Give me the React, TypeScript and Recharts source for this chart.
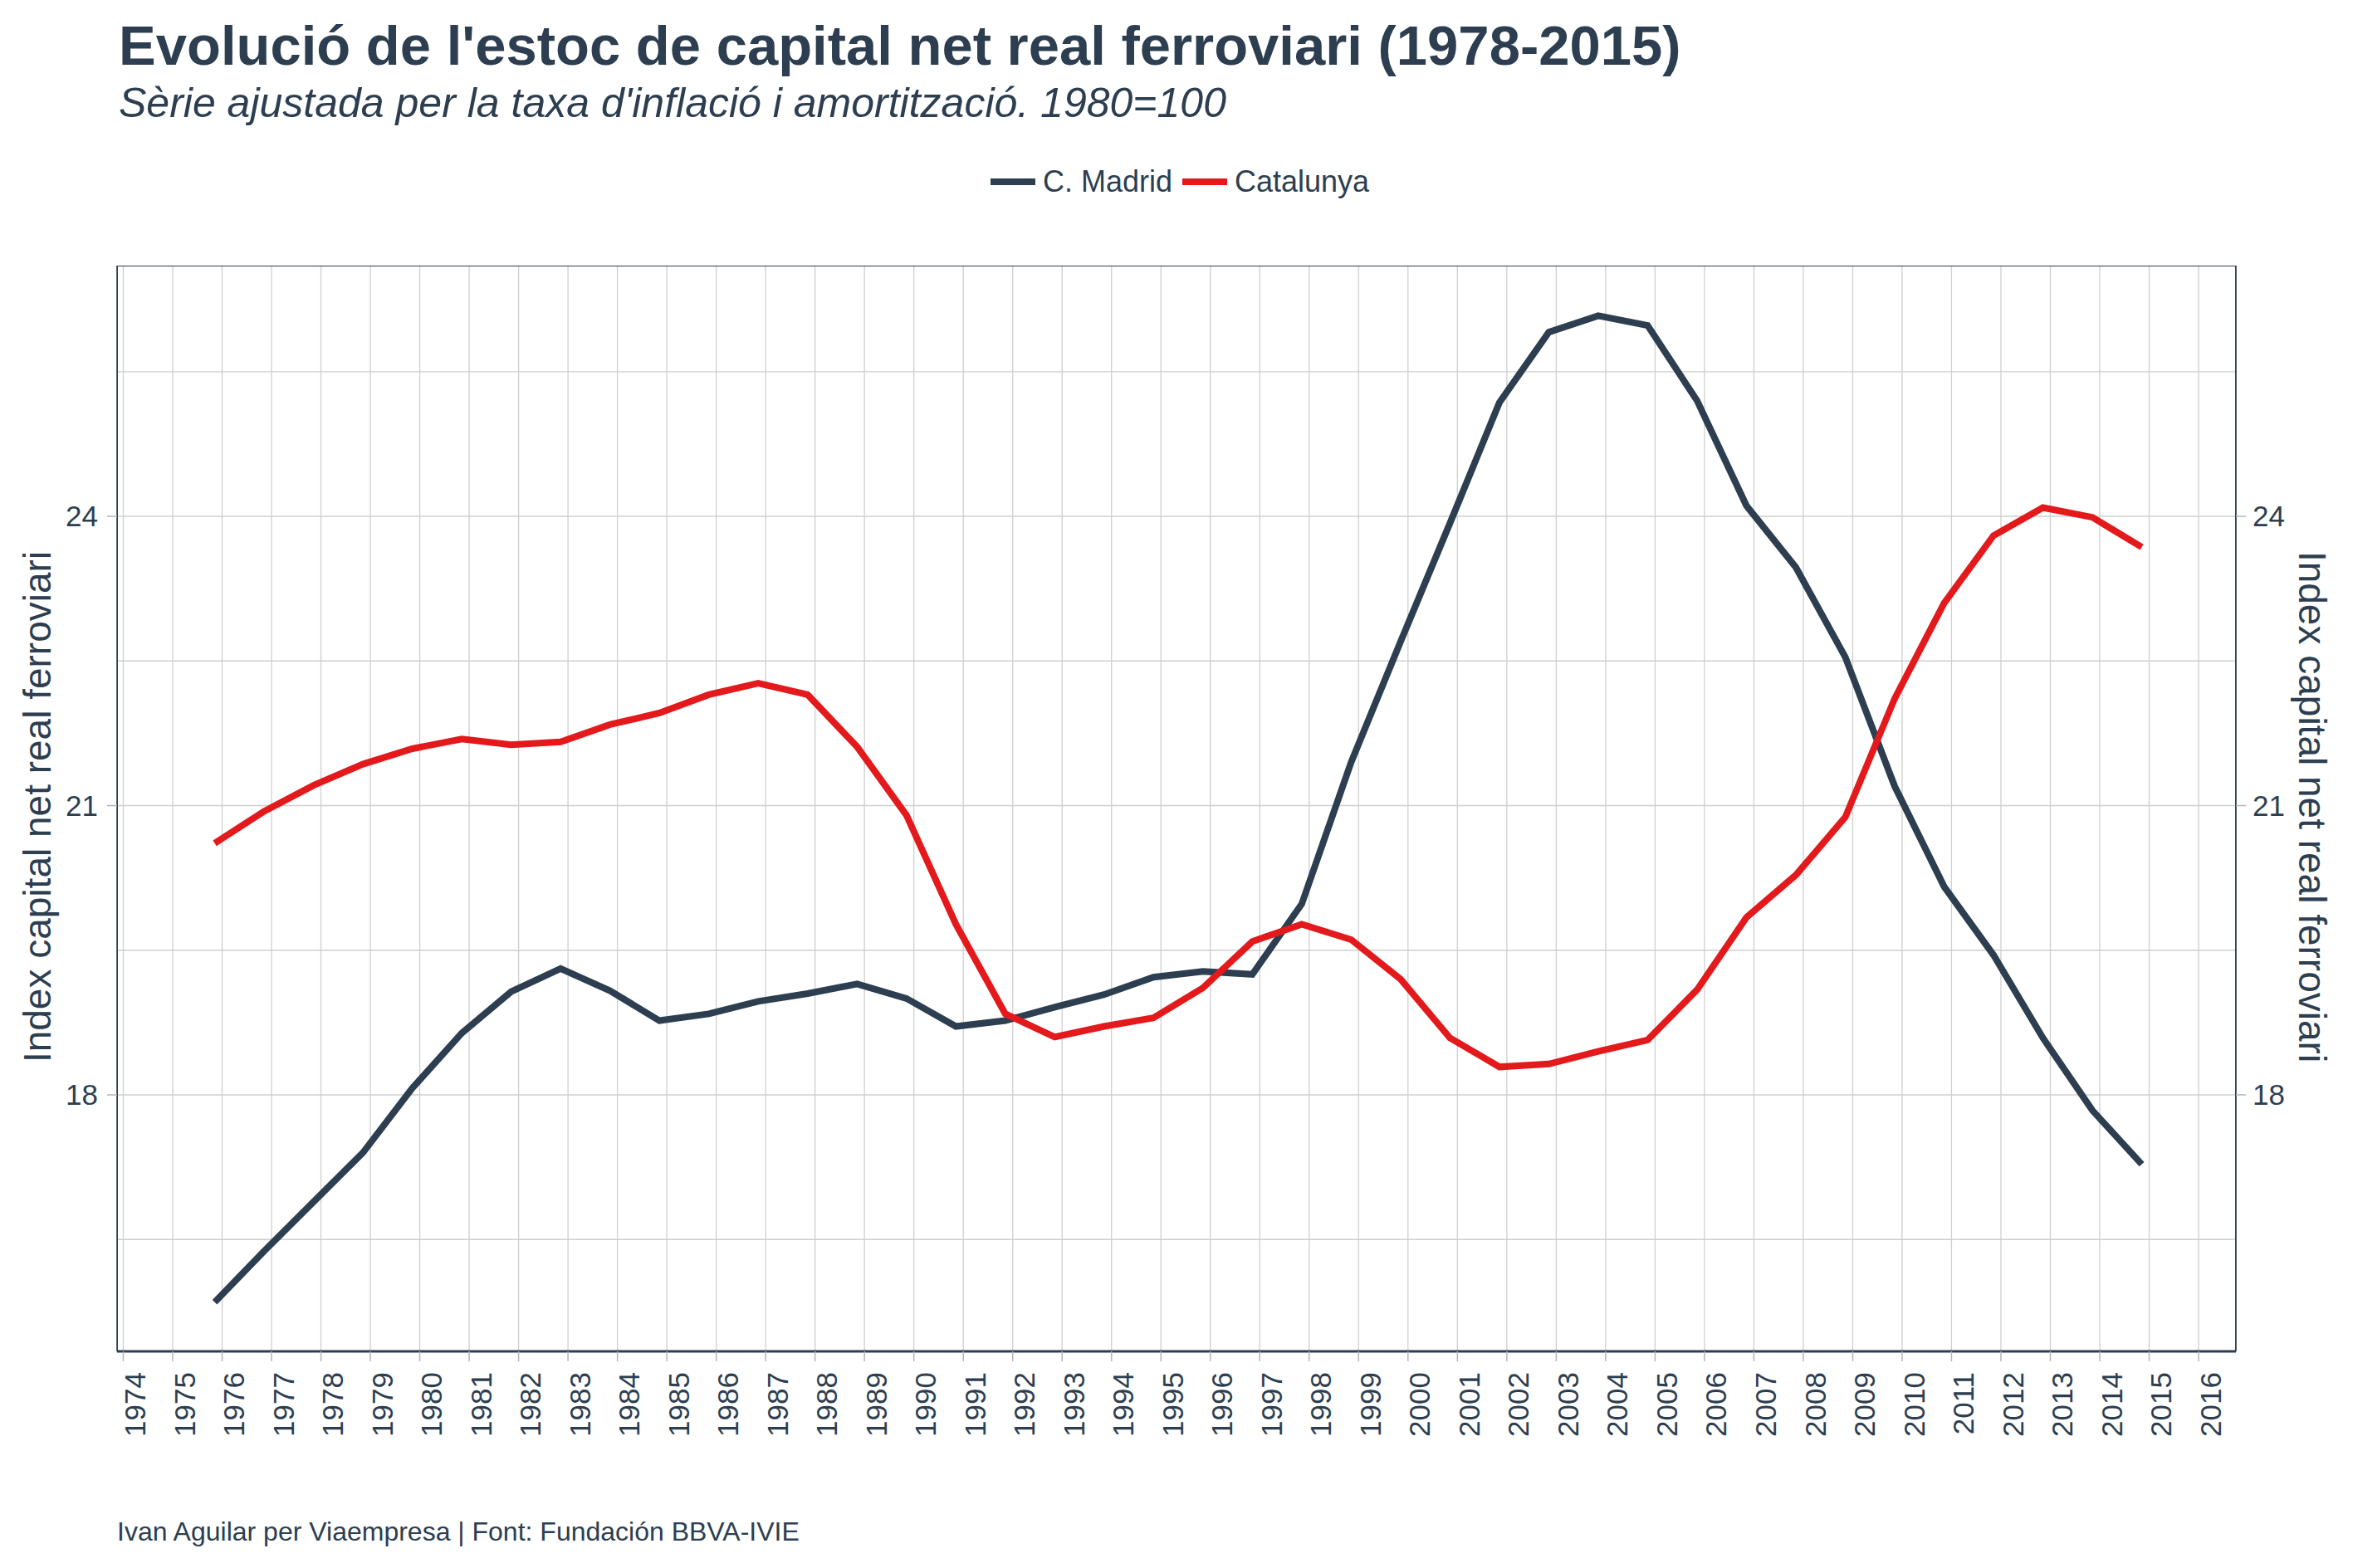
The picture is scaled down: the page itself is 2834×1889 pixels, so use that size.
import React from 'react';
import { LineChart, Line, XAxis, YAxis, CartesianGrid } from 'recharts';

const FONT = '"Liberation Sans", Arial, Helvetica, sans-serif';
const INK = '#2C3E50';

const years = [1976, 1977, 1978, 1979, 1980, 1981, 1982, 1983, 1984, 1985,
  1986, 1987, 1988, 1989, 1990, 1991, 1992, 1993, 1994, 1995,
  1996, 1997, 1998, 1999, 2000, 2001, 2002, 2003, 2004, 2005,
  2006, 2007, 2008, 2009, 2010, 2011, 2012, 2013, 2014, 2015];

const madrid = [15.85, 16.38, 16.89, 17.40, 18.07, 18.64, 19.07, 19.31, 19.08, 18.77,
  18.84, 18.97, 19.05, 19.15, 19.00, 18.71, 18.77, 18.91, 19.04, 19.22,
  19.28, 19.25, 19.98, 21.45, 22.70, 23.93, 25.18, 25.91, 26.08, 25.98,
  25.20, 24.11, 23.47, 22.54, 21.20, 20.16, 19.45, 18.59, 17.84, 17.28];

const catalunya = [20.61, 20.94, 21.21, 21.43, 21.59, 21.69, 21.63, 21.66, 21.84, 21.96,
  22.15, 22.27, 22.15, 21.61, 20.90, 19.77, 18.84, 18.60, 18.71, 18.80,
  19.11, 19.59, 19.77, 19.61, 19.20, 18.59, 18.29, 18.32, 18.45, 18.57,
  19.09, 19.84, 20.28, 20.88, 22.11, 23.10, 23.80, 24.09, 23.99, 23.68];

const tickYears = [1974, 1975, 1976, 1977, 1978, 1979, 1980, 1981, 1982, 1983,
  1984, 1985, 1986, 1987, 1988, 1989, 1990, 1991, 1992, 1993,
  1994, 1995, 1996, 1997, 1998, 1999, 2000, 2001, 2002, 2003,
  2004, 2005, 2006, 2007, 2008, 2009, 2010, 2011, 2012, 2013,
  2014, 2015, 2016];

const yTicks = [18, 21, 24];
const yGridValues = [16.5, 18, 19.5, 21, 22.5, 24, 25.5];

const seriesNames = ['C. Madrid', 'Catalunya'];
const seriesKeys = ['madrid', 'catalunya'];
const seriesColors = [INK, '#E3191C'];

const title = "Evolució de l'estoc de capital net real ferroviari (1978-2015)";
const subtitle = "Sèrie ajustada per la taxa d'inflació i amortització. 1980=100";
const axisTitle = 'Index capital net real ferroviari';
const caption = 'Ivan Aguilar per Viaempresa | Font: Fundación BBVA-IVIE';

const data = years.map((y, i) => ({ year: y, madrid: madrid[i], catalunya: catalunya[i] }));

const XTick = (props: any) => {
  const { x, y, payload } = props;
  return (
    <text
      x={x}
      y={y}
      transform={`rotate(-90, ${x}, ${y})`}
      textAnchor="end"
      dy="0.76em"
      fontSize={35}
      fill={INK}
      fontFamily={FONT}
    >
      {payload.value}
    </text>
  );
};

export default function App() {
  return (
    <div style={{ position: 'absolute', left: 0, top: 0, width: 2834, height: 1889, background: '#fff', fontFamily: FONT }}>
      <LineChart width={2834} height={1889} data={data} margin={{ top: 320, right: 0, bottom: 0, left: 0 }}>
        <CartesianGrid
          xAxisId="ticks"
          yAxisId="left"
          stroke="#cfcfcf"
          strokeWidth={1.3}
          horizontalValues={yGridValues}
        />
        <XAxis
          xAxisId="data"
          type="number"
          dataKey="year"
          domain={[1974.024, 2016.906]}
          allowDataOverflow
          height={0}
          hide
        />
        <XAxis
          xAxisId="ticks"
          type="number"
          dataKey="year"
          domain={[1973.874, 2016.756]}
          allowDataOverflow
          ticks={tickYears}
          interval={0}
          height={261}
          tickSize={12}
          tickMargin={13}
          tick={<XTick />}
          axisLine={{ stroke: INK, strokeWidth: 3 }}
          tickLine={{ stroke: '#b5b5b5', strokeWidth: 1.5 }}
        />
        <YAxis
          yAxisId="left"
          orientation="left"
          width={141}
          type="number"
          domain={[15.34, 26.6]}
          allowDataOverflow
          ticks={yTicks}
          interval={0}
          tickSize={12}
          tickMargin={11}
          tick={{ fontSize: 35, fill: INK, fontFamily: FONT }}
          axisLine={{ stroke: INK, strokeWidth: 1.5 }}
          tickLine={{ stroke: '#b5b5b5', strokeWidth: 1.5 }}
        />
        <YAxis
          yAxisId="right"
          orientation="right"
          width={141}
          type="number"
          domain={[15.34, 26.6]}
          allowDataOverflow
          ticks={yTicks}
          interval={0}
          tickSize={12}
          tickMargin={8}
          tick={{ fontSize: 35, fill: INK, fontFamily: FONT }}
          axisLine={{ stroke: INK, strokeWidth: 1.5 }}
          tickLine={{ stroke: '#b5b5b5', strokeWidth: 1.5 }}
        />
        {seriesKeys.map((k, i) => (
          <Line
            key={k}
            xAxisId="data"
            yAxisId="left"
            type="linear"
            dataKey={k}
            name={seriesNames[i]}
            stroke={seriesColors[i]}
            strokeWidth={8}
            dot={false}
            activeDot={false}
            isAnimationActive={false}
          />
        ))}
      </LineChart>

      {/* panel border */}
      <div style={{ position: 'absolute', left: 141, top: 320, width: 2552, height: 1308, border: `1.5px solid ${INK}`, boxSizing: 'border-box', pointerEvents: 'none' }} />

      {/* legend */}
      <div style={{ position: 'absolute', left: 4, top: 199, width: 2834, height: 40, display: 'flex', justifyContent: 'center', alignItems: 'center', pointerEvents: 'none' }}>
        {seriesNames.map((n, i) => (
          <div key={n} style={{ display: 'flex', alignItems: 'center', marginRight: i === 0 ? 12 : 0 }}>
            <div style={{ width: 54, height: 8, background: seriesColors[i] }} />
            <span style={{ marginLeft: 9, fontSize: 36, color: INK, fontFamily: FONT, lineHeight: '40px', whiteSpace: 'nowrap' }}>{n}</span>
          </div>
        ))}
      </div>

      {/* titles, axis titles, caption */}
      <svg width={2834} height={1889} style={{ position: 'absolute', left: 0, top: 0, pointerEvents: 'none' }}>
        <text x={143} y={78} fontSize={67} fontWeight="bold" fill={INK} fontFamily={FONT}>{title}</text>
        <text x={143} y={141} fontSize={50} fontStyle="italic" fill={INK} fontFamily={FONT}>{subtitle}</text>
        <text transform="translate(45,972) rotate(-90)" textAnchor="middle" dy="0.35em" fontSize={46} fill={INK} fontFamily={FONT}>{axisTitle}</text>
        <text transform="translate(2785,972) rotate(90)" textAnchor="middle" dy="0.35em" fontSize={46} fill={INK} fontFamily={FONT}>{axisTitle}</text>
        <text x={141} y={1856} fontSize={32} fill={INK} fontFamily={FONT}>{caption}</text>
      </svg>
    </div>
  );
}
